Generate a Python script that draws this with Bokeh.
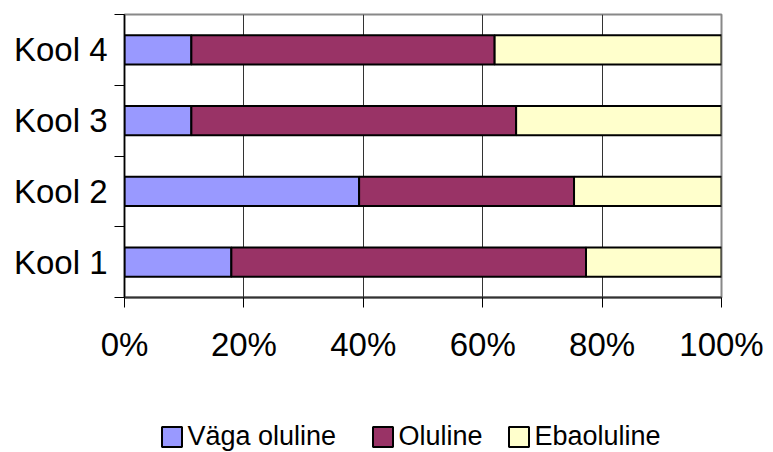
from bokeh.plotting import figure
from bokeh.layouts import column
from bokeh.models import (ColumnDataSource, Range1d, FixedTicker, Legend, LegendItem)
from bokeh.embed import file_html
from bokeh.resources import INLINE

# Share of answers per school (percent of respondents)
schools = ["Kool 1", "Kool 2", "Kool 3", "Kool 4"]
vaga_oluline = [17.9, 39.3, 11.2, 11.2]
oluline = [59.4, 36.0, 54.4, 50.8]
ebaoluline = [22.7, 24.7, 34.4, 38.0]
series_names = ["Väga oluline", "Oluline", "Ebaoluline"]
series_colors = ["#9999FF", "#993366", "#FFFFCC"]
x_ticks = [0, 20, 40, 60, 80, 100]
x_tick_labels = ["0%", "20%", "40%", "60%", "80%", "100%"]

FONT = "Liberation Sans"
WIDTH = 773
CHART_H = 395
LEGEND_H = 57

pos = list(range(1, len(schools) + 1))
source = ColumnDataSource(dict(
    y=pos,
    vaga=vaga_oluline,
    oluline=oluline,
    eba=ebaoluline,
))

p = figure(width=WIDTH, height=CHART_H, output_backend="svg", toolbar_location=None,
           x_range=Range1d(0, 100), y_range=Range1d(0.5, len(schools) + 0.5),
           min_border_left=124, min_border_right=52, min_border_top=14,
           min_border_bottom=CHART_H - 297)
p.background_fill_color = "white"
p.border_fill_color = "white"
p.outline_line_color = "#888888"
p.outline_line_width = 2

p.hbar_stack(["vaga", "oluline", "eba"], y="y", height=0.41,
             color=series_colors, line_color="black", line_width=2,
             source=source)

# x axis: percentage scale
p.xaxis.ticker = FixedTicker(ticks=x_ticks, minor_ticks=[])
p.xaxis.major_label_overrides = {t: lab for t, lab in zip(x_ticks, x_tick_labels)}
p.xaxis.major_label_text_font = FONT
p.xaxis.major_label_text_font_size = "33px"
p.xaxis.major_label_text_color = "black"
p.xaxis.major_label_standoff = 18
p.xaxis.major_tick_out = 10
p.xaxis.major_tick_in = 0
p.xaxis.major_tick_line_color = "black"
p.xaxis.axis_line_color = "#333333"
p.xaxis.axis_line_width = 2

# y axis: school names centred in each band, ticks between bands
p.yaxis.ticker = FixedTicker(ticks=pos, minor_ticks=[v + 0.5 for v in [0] + pos])
p.yaxis.major_label_overrides = {v: s for v, s in zip(pos, schools)}
p.yaxis.major_label_text_font = FONT
p.yaxis.major_label_text_font_size = "33px"
p.yaxis.major_label_text_color = "black"
p.yaxis.major_label_standoff = 7
p.yaxis.major_tick_out = 0
p.yaxis.major_tick_in = 0
p.yaxis.minor_tick_out = 10
p.yaxis.minor_tick_in = 0
p.yaxis.minor_tick_line_color = "black"
p.yaxis.axis_line_color = "black"
p.yaxis.axis_line_width = 1.5

p.xgrid.ticker = FixedTicker(ticks=x_ticks[1:-1])
p.xgrid.grid_line_color = "#333333"
p.xgrid.grid_line_width = 1
p.ygrid.grid_line_color = None

# legend strip under the chart (frame lined up with the chart's frame)
lg_fig = figure(width=WIDTH, height=LEGEND_H, output_backend="svg",
                toolbar_location=None, x_range=Range1d(0, 1), y_range=Range1d(0, 1),
                min_border_left=124, min_border_right=52, min_border_top=0,
                min_border_bottom=0, outline_line_color=None)
lg_fig.axis.visible = False
lg_fig.grid.visible = False
# swatch renderers sit outside the visible range; they only feed the legend
swatch = ColumnDataSource(dict(y=[-10], left=[0], right=[0]))
legend_x = [34.5, 245.5, 381.5]
for name, colour, lx in zip(series_names, series_colors, legend_x):
    r = lg_fig.hbar(y="y", left="left", right="right", height=1, source=swatch,
                    fill_color=colour, line_color="black", line_width=2)
    lg = Legend(items=[LegendItem(label=name, renderers=[r])],
                location=(lx, 0), orientation="horizontal",
                padding=0, margin=0, spacing=0,
                glyph_width=25, glyph_height=25, label_standoff=4,
                label_text_font=FONT, label_text_font_size="27px",
                label_text_color="black",
                border_line_alpha=0, background_fill_alpha=0)
    lg_fig.add_layout(lg, "center")

layout = column(p, lg_fig, spacing=0)
open("out.html", "w").write(file_html(layout, INLINE))
